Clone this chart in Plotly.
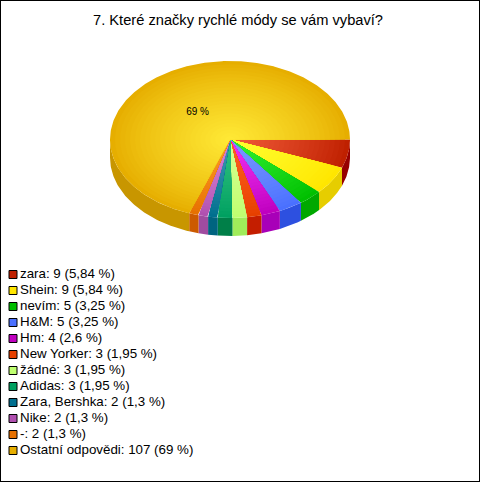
import numpy as np
import plotly.graph_objects as go

TITLE = "7. Které značky rychlé módy se vám vybaví?"
categories = ["zara", "Shein", "nevím", "H&M", "Hm", "New Yorker", "žádné", "Adidas",
              "Zara, Bershka", "Nike", "-", "Ostatní odpovědi"]
values = [9, 9, 5, 5, 4, 3, 3, 3, 2, 2, 2, 107]
percent_labels = ["5,84", "5,84", "3,25", "3,25", "2,6", "1,95", "1,95", "1,95", "1,3", "1,3", "1,3", "69"]

edge_colors = ["#bf2000", "#ffe600", "#00bf00", "#4a70ff", "#bf00bf", "#e64000", "#bfff70",
               "#00a060", "#006f8f", "#b050b0", "#e67000", "#e6ae00"]
centre_colors = ["#f05a38", "#ffff30", "#30f030", "#7a98ff", "#f030f0", "#ff6020", "#d8ff90",
                 "#30c080", "#4098b0", "#d888d8", "#ff9a28", "#ffe835"]
side_colors = ["#960000", "#e6cd00", "#00a800", "#2d50e0", "#a800b8", "#c41e00", "#a0ec5a",
               "#007f48", "#006480", "#a04ca0", "#cc5a00", "#c89600"]

W, H = 480, 482
CX, CY, RX, RY, DEPTH = 230, 139.5, 120, 78.5, 18
RINGS = 24


def rgb(c):
    return np.array([int(c[i:i + 2], 16) for i in (1, 3, 5)], float)


fig = go.Figure()
total = sum(values)
fractions = np.cumsum([0] + values) / total

# side wall (front half only)
for i, name in enumerate(categories):
    a0, a1 = 2 * np.pi * fractions[i], min(2 * np.pi * fractions[i + 1], np.pi)
    if a0 >= np.pi:
        continue
    t = np.linspace(a0, a1, 80)
    xs = CX + RX * np.cos(t)
    ys = CY + RY * np.sin(t)
    fig.add_trace(go.Scatter(
        x=np.r_[xs, xs[::-1]], y=np.r_[ys, ys[::-1] + DEPTH],
        mode="lines", line=dict(width=0), fill="toself", fillcolor=side_colors[i],
        hoverinfo="skip", showlegend=False))

# top surface: radial shading painted from the rim inward
for i, name in enumerate(categories):
    t = np.linspace(2 * np.pi * fractions[i], 2 * np.pi * fractions[i + 1], 40 + int(values[i] * 3))
    e, c = rgb(edge_colors[i]), rgb(centre_colors[i])
    for k in range(RINGS):
        r = 1 - k / RINGS
        mix = (k / (RINGS - 1)) ** 0.85
        col = e + (c - e) * mix
        fig.add_trace(go.Scatter(
            x=np.r_[CX, CX + r * RX * np.cos(t), CX],
            y=np.r_[CY, CY + r * RY * np.sin(t), CY],
            mode="lines", line=dict(width=0), fill="toself",
            fillcolor=f"rgb({col[0]:.0f},{col[1]:.0f},{col[2]:.0f})",
            hoverinfo="skip", showlegend=False, name=name))

# percent label on the largest slice
mid = 2 * np.pi * (fractions[-2] + fractions[-1]) / 2
fig.add_trace(go.Scatter(
    x=[CX + 0.47 * RX * np.cos(mid)], y=[CY + 0.47 * RY * np.sin(mid) + 3],
    mode="text", text=[f"{percent_labels[-1]} %"],
    textfont=dict(family="Liberation Sans, Arial, sans-serif", size=10, color="#000000"),
    hoverinfo="skip", showlegend=False))

# legend column
legend_text = [f"{c}: {v} ({p} %)" for c, v, p in zip(categories, values, percent_labels)]
row_y = [274.5 + 16 * i for i in range(len(categories))]
fig.add_trace(go.Scatter(
    x=[13] * len(categories), y=row_y, mode="markers",
    marker=dict(symbol="square", size=8, color=edge_colors, line=dict(color="#000000", width=1)),
    hoverinfo="skip", showlegend=False))
fig.add_trace(go.Scatter(
    x=[20] * len(categories), y=[v + 0.5 for v in row_y], mode="text",
    text=legend_text, textposition="middle right",
    textfont=dict(family="Liberation Sans, Arial, sans-serif", size=13.33, color="#000000"),
    hoverinfo="skip", showlegend=False))

fig.update_layout(
    width=W, height=H, autosize=False,
    margin=dict(l=0, r=0, t=0, b=0),
    paper_bgcolor="#ffffff", plot_bgcolor="#ffffff",
    xaxis=dict(range=[0, W], visible=False, fixedrange=True),
    yaxis=dict(range=[H, 0], visible=False, fixedrange=True),
    showlegend=False,
    shapes=[dict(type="rect", xref="paper", yref="paper", x0=0, y0=0, x1=1, y1=1,
                 line=dict(color="#000000", width=2), fillcolor="rgba(0,0,0,0)")],
    annotations=[dict(text=TITLE, xref="x", yref="y", x=238, y=20, showarrow=False,
                      xanchor="center", yanchor="middle",
                      font=dict(family="Liberation Sans, Arial, sans-serif", size=14.67, color="#000000"))],
)
fig.write_html("out.html", config=dict(displayModeBar=False), include_plotlyjs=True)
with open("out.html", encoding="utf-8") as f:
    page = f.read()
page = page.replace("<head>", "<head><style>html,body{margin:0;padding:0;overflow:hidden;background:#fff}</style>", 1)
with open("out.html", "w", encoding="utf-8") as f:
    f.write(page)
